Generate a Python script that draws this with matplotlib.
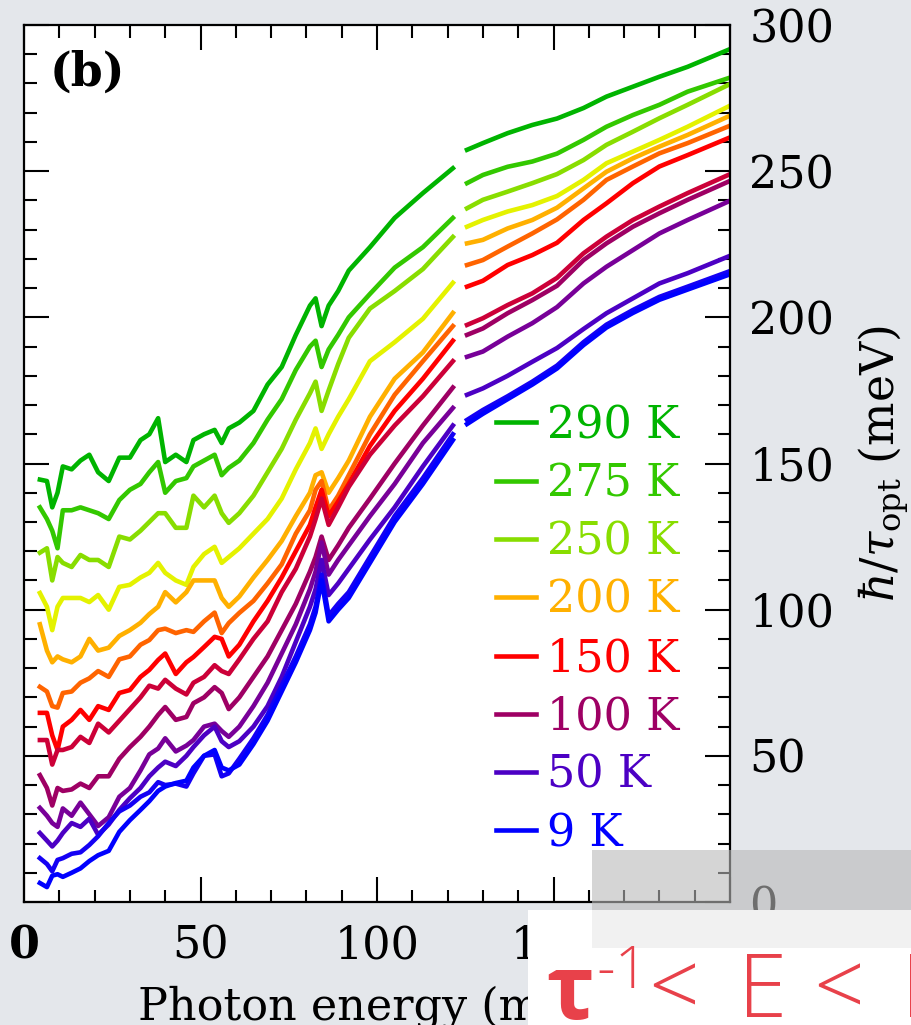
import numpy as np
import matplotlib
matplotlib.use("Agg")
import matplotlib.pyplot as plt
from matplotlib.patches import Rectangle
from matplotlib.ticker import MultipleLocator

# ---------------- data ----------------
energy = [4.5, 6.5, 8, 9.5, 11, 13.5, 16, 18.5, 21, 24, 27, 30, 33, 35.5, 38, 40, 43, 46, 48, 51,
          54, 56, 58, 61, 65, 69, 73, 77, 81, 82.6, 84.3, 86.3, 89, 92, 98, 105, 113, 121.5,
          125.5, 130, 137, 144, 151, 158.5, 165, 172.5, 180, 188, 199.5]
gap_energy = 123.5  # no data between the two spectral ranges

y290 = [144.5, 144, 135, 140, 149, 148, 151, 153, 147, 144, 152, 152, 158, 160, 165.5, 150.5, 153, 150.5, 158, 160,
        161.5, 157, 162, 164, 168, 177, 183, 194, 204, 206.5, 197, 204, 209, 216, 224, 234, 242.5, 251,
        257.3, 259.6, 263, 265.8, 268, 271.6, 275.5, 278.9, 282.3, 285.7, 291.5]
y275 = [135, 131, 127, 121, 134, 134, 135, 134, 133, 131, 137.5, 141, 143, 147, 150.5, 140, 144, 145, 149, 151,
        153, 146, 148.5, 151, 157, 165, 172, 182, 190, 192, 183, 189, 194, 200, 208, 217, 224, 234,
        245.9, 248.7, 251.5, 253.3, 256, 260.7, 265.2, 269.2, 272.7, 277.2, 281.8]
y250 = [119.5, 121, 110, 118, 116, 114.6, 118.7, 117, 117, 114.6, 125, 124, 127, 130, 133, 133, 128, 128, 139, 135,
        139, 133, 129.7, 133, 139, 147, 155, 165, 174, 178, 168, 175, 184, 193, 203, 209, 216.5, 227.5,
        237.3, 240.2, 243, 245.9, 249, 253.8, 259, 263.5, 268.1, 272.7, 279.5]
y225 = [105.7, 101, 93, 101, 104, 104, 104, 102.6, 105, 100, 107.8, 108.5, 111, 112.6, 116, 112.6, 110, 108.5, 114.6, 119,
        121.5, 116, 118, 121, 126, 131, 138, 148, 157, 162, 155, 160, 166, 172, 185, 191.5, 199.5, 211.8,
        231, 233.3, 236.2, 238.4, 241.5, 247, 252.7, 256.7, 260.7, 265.2, 272.1]
y200 = [95, 86, 82, 84, 83, 82, 84, 90, 86, 87, 91, 93, 95.5, 98.5, 101, 106, 102.5, 106, 110, 110,
        110, 104, 101, 104.5, 111, 117, 123.5, 132, 140, 146, 147, 140, 145, 151, 166, 179, 188, 201.5,
        225.3, 226.5, 230.4, 233.3, 237.5, 244.1, 249.8, 254.4, 258.4, 262.4, 268.7]
y175 = [73.6, 72, 67, 66.5, 71.5, 72, 75, 76.5, 79, 77, 83, 84, 88, 89.6, 93, 93.5, 92, 93, 92.4, 96,
        99, 92, 95.4, 98.9, 103, 109, 115.5, 126, 134, 141, 144, 134, 139, 146, 160, 173.5, 185, 197,
        217.9, 219.6, 224.2, 228.7, 233.5, 240.2, 247, 251.6, 256.1, 259.6, 265.3]
y150 = [64.7, 64.7, 57, 52, 60, 62.3, 65.7, 62.3, 67, 65.7, 71.5, 72.5, 77, 79.4, 82.8, 85, 78, 82, 83.8, 87.2,
        90.7, 90, 84, 88, 96, 103, 111, 120, 129, 135, 141, 132, 137, 143, 156, 168, 179, 192,
        210.5, 212.5, 217.9, 221.3, 225.5, 233.3, 239, 245.9, 251.6, 255.5, 261.3]
y125 = [55.4, 55.4, 47, 52, 52, 53, 56.5, 54.4, 61, 58, 62, 66, 70, 74, 73, 76, 73, 71, 75, 77,
        81, 79, 78, 83, 90, 96, 106, 114, 125, 131, 138, 129, 135, 142, 153, 163, 173, 185,
        197.4, 199.7, 204.2, 208.2, 213.5, 221.9, 227.6, 233.3, 237.9, 242.5, 248.7]
y100 = [43.4, 39, 33, 39, 38, 38.5, 40.5, 39, 43, 43, 49, 53, 56.5, 60, 64, 66.7, 62.3, 63.3, 68, 70,
        73.5, 71.5, 66, 70, 77, 84, 93, 102, 113, 118, 125, 117, 122, 128, 138, 150, 163, 176,
        194, 196.2, 201.4, 205.9, 210.8, 219.6, 225.3, 231, 235.6, 240.2, 246.4]
y75 = [32.2, 29.5, 27, 25.7, 32, 29.5, 34, 30, 26, 29, 36, 39, 45, 50.5, 52.5, 56, 51.5, 53.5, 55.4, 60,
       61, 58.5, 56.5, 60, 67, 75, 85, 95, 107, 113, 123, 112, 117, 122, 132, 143, 157, 169,
       186.5, 188.3, 193.4, 198, 203.5, 211.6, 217.3, 223, 228.7, 233.3, 239.6]
y50 = [23.6, 21, 19, 21, 23.6, 27, 25.7, 28.5, 23, 26.5, 31.5, 35.5, 39, 43, 46, 48, 46.5, 50, 53, 57,
       60, 55, 53, 55, 60, 67, 77, 89, 101, 107, 117, 105, 109, 114, 124, 135, 149, 163,
       173.5, 175.7, 180, 184.8, 189.5, 196, 201.4, 206.5, 211.6, 215.1, 220.8]
y25 = [15, 13, 10.5, 14.4, 15, 16.5, 17, 19.5, 22.5, 27, 31, 33, 36, 37.5, 41, 40, 40.5, 39.5, 44, 50,
       50.5, 43, 44, 49, 56, 64, 74, 84, 95, 101, 112, 98, 102, 106, 118, 132, 145, 160,
       164.9, 168.3, 173, 178, 183.5, 191.5, 197.5, 202.5, 207, 210.5, 215.6]
y9 = [6.5, 5.1, 9, 9.5, 8.6, 10, 11.5, 14, 16, 17.5, 24, 28, 31.5, 34.5, 38, 39.5, 40.7, 41.5, 46, 50,
      52, 46, 45, 47, 54, 62, 72, 82, 93, 99, 110, 96, 100, 104, 116, 130, 143, 158,
      163.5, 167, 172, 177, 182.5, 190.5, 196.5, 201.5, 206, 209.5, 214.5]

temps = [290, 275, 250, 225, 200, 175, 150, 125, 100, 75, 50, 25, 9]
series = [y290, y275, y250, y225, y200, y175, y150, y125, y100, y75, y50, y25, y9]
colors = ["#00b400", "#33c800", "#88dd00", "#e4f200", "#ffb000", "#ff6400", "#ff0000",
          "#cc0038", "#9e0064", "#780098", "#4c00c4", "#1400f4", "#0000ff"]
legend_temps = [290, 275, 250, 200, 150, 100, 50, 9]

xticks = [0, 50, 100, 150, 200]
yticks = [0, 50, 100, 150, 200, 250, 300]

# ---------------- figure ----------------
plt.rcParams["font.family"] = ["DejaVu Serif"]
plt.rcParams["mathtext.fontset"] = "dejavuserif"

W, H = 911, 1025
fig = plt.figure(figsize=(W / 100, H / 100), dpi=100, facecolor="#e4e7eb")
ax = fig.add_axes([24 / W, 1 - 902 / H, 706 / W, 877 / H])
ax.set_facecolor("white")

x = np.array(energy)
low = x <= gap_energy
handles = {}
for T, ys, c in zip(temps, series, colors):
    ys = np.array(ys)
    ln, = ax.plot(x[low], ys[low], color=c, lw=3.3, solid_joinstyle="round")
    ax.plot(x[~low], ys[~low], color=c, lw=3.3, solid_joinstyle="round")
    handles[T] = ln

ax.set_xlim(0, 200)
ax.set_ylim(0, 300)
ax.set_xticks(xticks)
ax.set_xticklabels([str(v) for v in xticks])
ax.set_yticks(yticks)
ax.set_yticklabels([str(v) for v in yticks])
ax.xaxis.set_minor_locator(MultipleLocator(10))
ax.yaxis.set_minor_locator(MultipleLocator(10))
ax.tick_params(which="both", direction="in", top=True, bottom=True, left=True, right=True,
               labelleft=False, labelright=True, width=1.5, labelsize=32, colors="black")
ax.tick_params(which="major", length=18)
ax.tick_params(which="minor", length=9)
ax.tick_params(axis="y", pad=14)
ax.tick_params(axis="x", pad=16)
ax.get_xticklabels()[0].set_fontweight("bold")
for s in ax.spines.values():
    s.set_linewidth(1.6)

ax.set_xlabel("Photon energy (meV)", fontsize=32, labelpad=13)
ax.yaxis.set_label_position("right")
ax.set_ylabel(r"$\hbar/\tau_{\mathrm{opt}}$ (meV)", fontsize=33, rotation=90)
ax.yaxis.set_label_coords(1.18, 0.5)

ax.text(0.036, 0.972, "(b)", transform=ax.transAxes, fontsize=33, fontweight="bold",
        ha="left", va="top")

leg = ax.legend([handles[t] for t in legend_temps], [f"{t} K" for t in legend_temps],
                loc="upper left", bbox_to_anchor=(0.668, 0.568), frameon=False, fontsize=32,
                handlelength=0.9, handletextpad=0.25, labelspacing=0.34, borderpad=0,
                borderaxespad=0, labelcolor="linecolor")

# ---------------- slide overlay: tape, paper note ----------------
def fx(px):
    return px / W

def fy(py):
    return 1 - py / H

tape_color = "#b9b9b9"
fig.add_artist(Rectangle((fx(592), fy(910)), fx(911 - 592), 60 / H, transform=fig.transFigure,
                         facecolor=tape_color, edgecolor="none", alpha=0.6, zorder=10))
fig.add_artist(Rectangle((fx(528), 0), fx(911 - 528), fy(910), transform=fig.transFigure,
                         facecolor="white", edgecolor="none", zorder=11))
fig.add_artist(Rectangle((fx(592), fy(948)), fx(911 - 592), 38 / H, transform=fig.transFigure,
                         facecolor=tape_color, edgecolor="none", alpha=0.2, zorder=12))

red = "#e8414a"
light_sans = ["Open Sans", "Lato", "DejaVu Sans"]
fig.text(fx(546), fy(1019), "τ", fontsize=64, fontweight="bold", family=["Open Sans", "DejaVu Sans"],
         color=red, ha="left", va="baseline", zorder=13)
fig.text(fx(596), fy(988), "-1", fontsize=42, fontweight="light", family=light_sans,
         color=red, ha="left", va="baseline", zorder=13)
for px, s in [(648, "<"), (738, "E"), (813, "<"), (901, "E")]:
    fig.text(fx(px), fy(1017), s, fontsize=64, fontweight="light", family=light_sans,
             color=red, ha="left", va="baseline", zorder=13)

fig.savefig("out.png", dpi=100, facecolor=fig.get_facecolor())
